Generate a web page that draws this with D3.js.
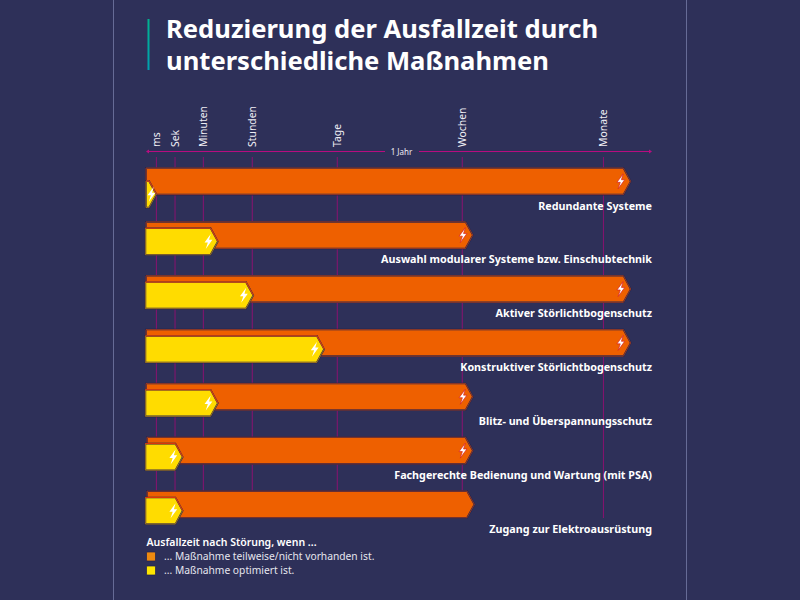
<!DOCTYPE html>
<html lang="de"><head><meta charset="utf-8">
<script src="https://cdn.jsdelivr.net/npm/d3@7"></script>
<style>html,body{margin:0;padding:0;background:#2e3059}svg{display:block}text{font-family:"Noto Sans",sans-serif}</style>
</head><body><svg id="c" width="800" height="600"></svg>
<script>
const tickLabels=["ms","Sek","Minuten","Stunden","Tage","Wochen","Monate"];
const tickValues=[2.05,5.74,11.33,21,37.8,62.5,90.4];
const measures=["Redundante Systeme","Auswahl modularer Systeme bzw. Einschubtechnik","Aktiver Störlichtbogenschutz","Konstruktiver Störlichtbogenschutz","Blitz- und Überspannungsschutz","Fachgerechte Bedienung und Wartung (mit PSA)","Zugang zur Elektroausrüstung"];
const notOptimised=[95.8,64.6,95.8,95.8,64.6,64.6,64.9];
const optimised=[2.05,14.2,21.2,35.2,14.2,7.25,7.25];
const titleLines=["Reduzierung der Ausfallzeit durch","unterschiedliche Maßnahmen"];
const legendTitle="Ausfallzeit nach Störung, wenn ...";
const legendLabels=["... Maßnahme teilweise/nicht vorhanden ist.","... Maßnahme optimiert ist."];

const svg=d3.select("#c");
const x=d3.scaleLinear().domain([0,100]).range([146,652]);
const y=d3.scaleBand().domain(measures).range([168,545]).paddingInner(0).paddingOuter(0);
const H=26.6, TIP=7.3;
const navy="#1c2050";
svg.append("rect").attr("width",800).attr("height",600).attr("fill","#2e3059");
[113.5,686.5].forEach(px=>svg.append("line").attr("x1",px).attr("x2",px).attr("y1",0).attr("y2",600).attr("stroke","#666b96").attr("stroke-width",1));

// title
const grad=svg.append("defs").append("linearGradient").attr("id","tg").attr("x1",0).attr("x2",0).attr("y1",0).attr("y2",1);
grad.append("stop").attr("offset",0).attr("stop-color","#00b38f");
grad.append("stop").attr("offset",1).attr("stop-color","#00a0b0");
svg.append("rect").attr("x",147.5).attr("y",19).attr("width",2).attr("height",51).attr("fill","url(#tg)");
svg.selectAll(".title").data(titleLines).join("text").attr("class","title")
  .attr("x",166).attr("y",(d,i)=>38+i*32).attr("fill","#fff").attr("font-size",25.6).attr("font-weight",700).text(d=>d);

// time axis
svg.selectAll(".grid").data(tickValues).join("line").attr("class","grid")
  .attr("x1",d=>x(d)).attr("x2",d=>x(d)).attr("y1",157).attr("y2",518)
  .attr("stroke","#8a1270").attr("stroke-width",1);
svg.selectAll(".tl").data(tickLabels).join("text").attr("class","tl")
  .attr("transform",(d,i)=>`translate(${x(tickValues[i])+3.7},147) rotate(-90)`)
  .attr("fill","#eeeef4").attr("font-size",10.4).text(d=>d);
const mag="#b80c80", ay=151.5;
svg.append("line").attr("x1",x(0)+1).attr("x2",385).attr("y1",ay).attr("y2",ay).attr("stroke",mag);
svg.append("line").attr("x1",419).attr("x2",x(100)-1).attr("y1",ay).attr("y2",ay).attr("stroke",mag);
svg.append("path").attr("d",`M${x(0)} ${ay}l3 -2v4z`).attr("fill",mag);
svg.append("path").attr("d",`M${x(100)} ${ay}l-3 -2v4z`).attr("fill",mag);
svg.append("text").attr("x",401.5).attr("y",154.5).attr("text-anchor","middle").attr("fill","#eeeef4").attr("font-size",8).text("1 Jahr");

function arrow(x0,x1,top,h){
  const t=Math.min(TIP,x1-x0);
  const p=d3.path();
  p.moveTo(x0,top);p.lineTo(x1-t,top);p.lineTo(x1,top+h/2);p.lineTo(x1-t,top+h);p.lineTo(x0,top+h);p.closePath();
  return p.toString();
}
function topEdge(x0,x1,top,h){
  const t=Math.min(TIP,x1-x0);
  const p=d3.path();
  p.moveTo(x0,top);p.lineTo(x1-t,top);p.lineTo(x1,top+h/2);
  return p.toString();
}
const bolt=(cx,cy)=>`M${cx+2.4} ${cy-7.5}L${cx-3.8} ${cy+1}H${cx-.5}L${cx-2.6} ${cy+7.5}L${cx+4} ${cy-1.6}H${cx+.7}Z`;
const rowLeft=i=>x(0)+(i>4?1:0);
const yOff=i=>i===0?13:6.3;
const yTipBolt=i=>x(optimised[i])-(i===0?5:9.5);

const rows=svg.selectAll(".row").data(measures).join("g").attr("class","row");
// orange: dark outline with a thin red-orange inner edge
rows.append("path").attr("d",(d,i)=>arrow(rowLeft(i),x(notOptimised[i]),y(d),H))
  .attr("fill","#ee6000").attr("stroke",navy).attr("stroke-width",1.6);
rows.append("path").attr("d",(d,i)=>arrow(rowLeft(i),x(notOptimised[i]),y(d),H))
  .attr("fill","none").attr("stroke","#e04a08").attr("stroke-width",.6);
rows.filter(d=>measures.indexOf(d)<6).append("path")
  .attr("d",d=>{const i=measures.indexOf(d);return bolt(x(notOptimised[i])-10,y(d)+H/2);})
  .attr("fill","#fff").attr("stroke","#d8201f").attr("stroke-width",.7);
// yellow
rows.append("path").attr("d",(d,i)=>arrow(x(0)-(i>0?.6:0),x(optimised[i]),y(d)+yOff(i),H))
  .attr("fill","#ffdc00").attr("stroke",navy).attr("stroke-width",1.6);
rows.append("path").attr("d",(d,i)=>arrow(x(0)-(i>0?.6:0),x(optimised[i]),y(d)+yOff(i),H))
  .attr("fill","none").attr("stroke","#f0a800").attr("stroke-width",.6);
rows.append("path").attr("d",(d,i)=>topEdge(x(0)-(i>0?.6:0),x(optimised[i]),y(d)+yOff(i),H))
  .attr("fill","none").attr("stroke","#e0300c").attr("stroke-width",1);
rows.append("path").attr("d",d=>{const i=measures.indexOf(d);return bolt(yTipBolt(i),y(d)+yOff(i)+H/2);})
  .attr("fill","#fff");
rows.append("text").attr("x",652).attr("y",d=>y(d)+41.5).attr("text-anchor","end")
  .attr("fill","#fff").attr("font-size",10.75).attr("font-weight",700).text(d=>d);

// legend
svg.append("text").attr("x",146.5).attr("y",546).attr("fill","#fff").attr("font-size",10.5).attr("font-weight",600).text(legendTitle);
const legendColors=["#ee8a10","#ffe600"];
const leg=svg.selectAll(".lg").data(legendLabels).join("g").attr("class","lg");
leg.append("rect").attr("x",146.5).attr("y",(d,i)=>552+i*14).attr("width",9).attr("height",9).attr("rx",1)
  .attr("fill",(d,i)=>legendColors[i]).attr("stroke",navy).attr("stroke-width",.7);
leg.append("text").attr("x",164).attr("y",(d,i)=>560+i*14).attr("fill","#e6e6ee").attr("font-size",10.25).text(d=>d);
</script></body></html>
